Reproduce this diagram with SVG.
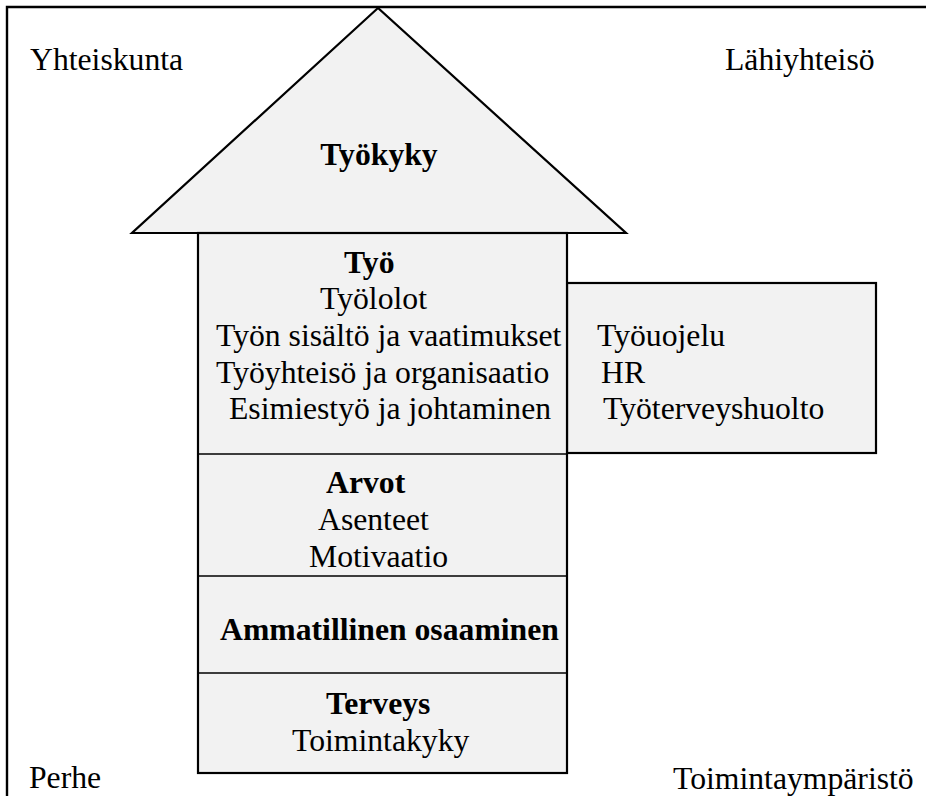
<svg xmlns="http://www.w3.org/2000/svg" width="926" height="796" viewBox="0 0 926 796">
<style>
text{font-family:"Liberation Serif","Times New Roman",serif;font-size:31.7px;fill:#000}
.b{font-weight:bold}
.shape{fill:#f2f2f2;stroke:#000;stroke-width:2.2}
.div{stroke:#000;stroke-width:1.4;fill:none}
.frame{fill:none;stroke:#000;stroke-width:2.4}
</style>
<rect width="926" height="796" fill="#fff"/>
<g id="frame">
<path class="frame" d="M7,800 L7,7 L930,7"/>
<text x="30" y="70">Yhteiskunta</text>
<text x="725" y="70">Lähiyhteisö</text>
<text x="29" y="788">Perhe</text>
<text x="673" y="789">Toimintaympäristö</text>
</g>
<g id="roof">
<polygon class="shape" points="378,8 132,233 626,233"/>
<text class="b" x="379" y="165" text-anchor="middle">Työkyky</text>
</g>
<g id="side">
<rect class="shape" x="567" y="283" width="309" height="170"/>
<text x="597" y="346">Työuojelu</text>
<text x="601" y="383">HR</text>
<text x="603" y="419">Työterveyshuolto</text>
</g>
<g id="body">
<rect class="shape" x="198" y="233" width="369" height="540"/>
</g>
<g id="connectors">
<line class="div" x1="198" y1="454" x2="567" y2="454"/>
<line class="div" x1="198" y1="576" x2="567" y2="576"/>
<line class="div" x1="198" y1="673" x2="567" y2="673"/>
</g>
<g id="tyo">
<text class="b" x="344" y="273">Työ</text>
<text x="320" y="309">Työlolot</text>
<text x="216" y="346">Työn sisältö ja vaatimukset</text>
<text x="216" y="383">Työyhteisö ja organisaatio</text>
<text x="229" y="419">Esimiestyö ja johtaminen</text>
</g>
<g id="arvot">
<text class="b" x="326" y="493">Arvot</text>
<text x="318" y="530">Asenteet</text>
<text x="309" y="567">Motivaatio</text>
</g>
<g id="osaaminen">
<text class="b" x="220" y="640">Ammatillinen osaaminen</text>
</g>
<g id="terveys">
<text class="b" x="326" y="714">Terveys</text>
<text x="292" y="751">Toimintakyky</text>
</g>
</svg>
